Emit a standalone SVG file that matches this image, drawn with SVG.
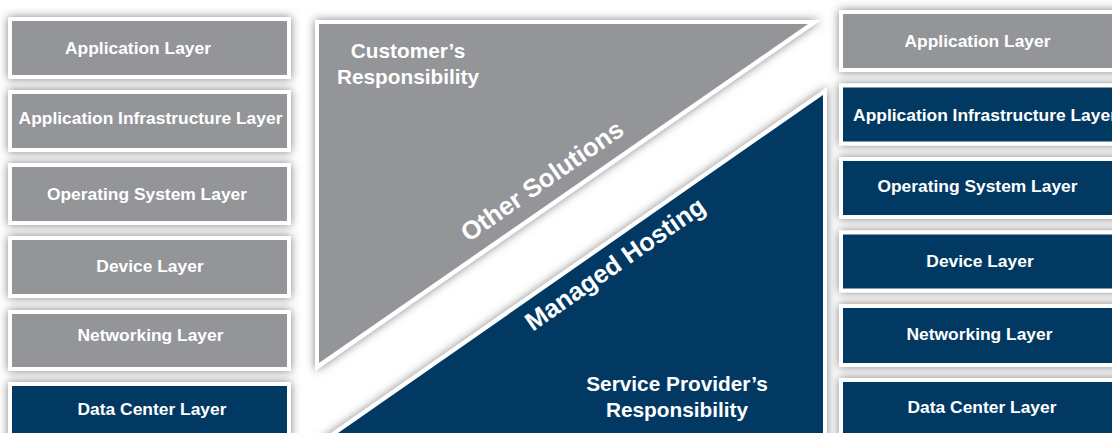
<svg xmlns="http://www.w3.org/2000/svg" width="1112" height="433" viewBox="0 0 1112 433">
<defs>
<filter id="sh" x="-20%" y="-20%" width="140%" height="140%">
<feDropShadow dx="0" dy="0" stdDeviation="5" flood-color="#000" flood-opacity="0.5"/>
</filter>
</defs>
<style>
.frame{fill:#fff;filter:url(#sh)}
.g{fill:#939598}
.b{fill:#023963}
.t{font-family:"Liberation Sans",Arial,sans-serif;font-weight:bold;fill:#fff;font-size:17.4px;text-anchor:middle}
.big{font-family:"Liberation Sans",Arial,sans-serif;font-weight:bold;fill:#fff;font-size:20.8px;text-anchor:middle}
.diag{font-family:"Liberation Sans",Arial,sans-serif;font-weight:bold;fill:#fff;font-size:25.5px;text-anchor:middle}
</style>
<rect width="1112" height="433" fill="#fff"/>

<g id="tri-customer">
<polygon class="frame" points="315,20 821,20 315,371"/>
<polygon class="g" points="319,24 808,24 319,363"/>
<text class="big" x="408" y="58">Customer’s</text>
<text class="big" x="408" y="84">Responsibility</text>
<text class="diag" x="547" y="188" transform="rotate(-34.8 547 188)">Other Solutions</text>
</g>

<g id="tri-provider">
<polygon class="frame" points="827,87.3 827,470 278,470"/>
<polygon class="b" points="823,95 823,470 285,470"/>
<text class="big" x="677" y="391">Service Provider’s</text>
<text class="big" x="677" y="417">Responsibility</text>
<text class="diag" x="620" y="271" transform="rotate(-34.8 620 271)">Managed Hosting</text>
</g>

<g id="left-app">
<rect class="frame" x="8" y="17" width="283" height="62"/>
<rect class="g" x="12" y="21" width="275" height="54"/>
<text class="t" x="138" y="54">Application Layer</text>
</g>
<g id="left-appinfra">
<rect class="frame" x="8" y="90" width="283" height="62"/>
<rect class="g" x="12" y="94" width="275" height="54"/>
<text class="t" x="150.5" y="124">Application Infrastructure Layer</text>
</g>
<g id="left-os">
<rect class="frame" x="8" y="163" width="283" height="62"/>
<rect class="g" x="12" y="167" width="275" height="54"/>
<text class="t" x="147" y="200">Operating System Layer</text>
</g>
<g id="left-device">
<rect class="frame" x="8" y="236" width="283" height="62"/>
<rect class="g" x="12" y="240" width="275" height="54"/>
<text class="t" x="150" y="272">Device Layer</text>
</g>
<g id="left-network">
<rect class="frame" x="8" y="310" width="283" height="61"/>
<rect class="g" x="12" y="314" width="275" height="53"/>
<text class="t" x="150.5" y="340.5">Networking Layer</text>
</g>
<g id="left-datacenter">
<rect class="frame" x="8" y="382" width="283" height="70"/>
<rect class="b" x="12" y="386" width="275" height="62"/>
<text class="t" x="152" y="415">Data Center Layer</text>
</g>

<g id="right-app">
<rect class="frame" x="839" y="10" width="290" height="62"/>
<rect class="g" x="843" y="14" width="290" height="54"/>
<text class="t" x="977.5" y="47">Application Layer</text>
</g>
<g id="right-appinfra">
<rect class="frame" x="839" y="83.5" width="290" height="62"/>
<rect class="b" x="843" y="87.5" width="290" height="54"/>
<text class="t" x="985" y="120.5">Application Infrastructure Layer</text>
</g>
<g id="right-os">
<rect class="frame" x="839" y="157" width="290" height="62"/>
<rect class="b" x="843" y="161" width="290" height="54"/>
<text class="t" x="977.5" y="192">Operating System Layer</text>
</g>
<g id="right-device">
<rect class="frame" x="839" y="230.5" width="290" height="62"/>
<rect class="b" x="843" y="234.5" width="290" height="54"/>
<text class="t" x="980" y="267">Device Layer</text>
</g>
<g id="right-network">
<rect class="frame" x="839" y="304" width="290" height="63"/>
<rect class="b" x="843" y="308" width="290" height="55"/>
<text class="t" x="979.5" y="340">Networking Layer</text>
</g>
<g id="right-datacenter">
<rect class="frame" x="839" y="378" width="290" height="70"/>
<rect class="b" x="843" y="382" width="290" height="62"/>
<text class="t" x="982" y="413">Data Center Layer</text>
</g>

<g id="connectors"></g>
</svg>
